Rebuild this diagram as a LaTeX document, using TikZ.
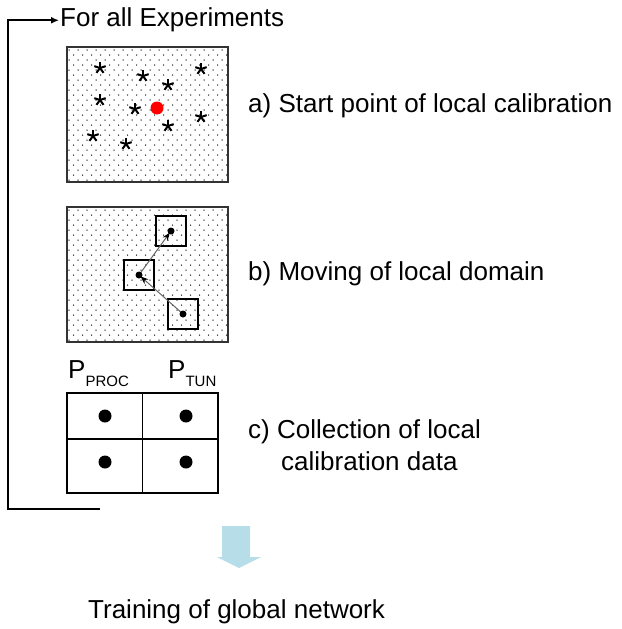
\documentclass[tikz,border=0pt]{standalone}
\usepackage{fontspec}
\setmainfont{Liberation Sans}
\usetikzlibrary{arrows.meta}

\definecolor{arrowblue}{RGB}{183,221,232}
\definecolor{dotgray}{RGB}{40,40,40}
\newcommand{\labelfont}{\fontsize{26}{31}\selectfont}
\newcommand{\subfont}{\fontsize{15}{15}\selectfont}

\begin{document}
\begin{tikzpicture}[x=1pt, y=-1pt,
    every node/.style={inner sep=1pt, font=\labelfont},
    panel/.style={rectangle, draw=black!80, line width=1.4pt, inner sep=0pt},
    domainbox/.style={rectangle, draw, line width=2.4pt, minimum size=30pt, inner sep=0pt},
    loopline/.style={line width=2.4pt, -{Latex[length=8pt, width=7pt]}},
    movearrow/.style={black!60, line width=1pt, shorten >=2pt, -{Stealth[length=8pt, width=6pt, black]}},
    textlabel/.style={anchor=base west}]

    \useasboundingbox (0,0) rectangle (621,629);

    % outer loop over the experiments
    \node (expt) [textlabel] at (59,27) {For all Experiments};
    \coordinate (loopend) at (100,509);
    \draw[loopline] (loopend) -- (8,509) |- (expt.west);

    % a) start point
    \node (boxa) [panel, minimum width=161pt, minimum height=135pt] at (147.5,114.5) {};
    \foreach \r in {0,...,26}
        \foreach \c in {0,...,17}
            \fill[dotgray] ({69+9*\c+4.5*mod(\r,2)}, {50+5*\r}) circle (0.75);
    \foreach \p in {(100,68),(143,76),(168,85),(201,69),(100,100),(135,109),(168,126),(201,117),(93,136),(126,144)}
        \foreach \a in {-90,-18,54,126,198}
            \draw[line width=2pt] \p -- ++(\a:6);
    \fill[red] (157,108) circle (6.5);
    \draw[panel] (boxa.north west) rectangle (boxa.south east);
    \node (labela) [textlabel] at (247,112) {a) Start point of local calibration};

    % b) moving the domain
    \node (boxb) [panel, minimum width=161pt, minimum height=135pt] at (147.5,274.5) {};
    \foreach \r in {0,...,26}
        \foreach \c in {0,...,17}
            \fill[dotgray] ({69+9*\c+4.5*mod(\r,2)}, {210+5*\r}) circle (0.75);
    \draw[panel] (boxb.north west) rectangle (boxb.south east);
    \coordinate (d1) at (171,231);
    \coordinate (d2) at (139,275);
    \coordinate (d3) at (183,314);
    \node (dom1) [domainbox] at (d1) {};
    \node (dom2) [domainbox] at (d2) {};
    \node (dom3) [domainbox] at (d3) {};
    \draw[movearrow] (d3) -- (d2);
    \draw[movearrow] (d2) -- (d1);
    \foreach \d in {d1,d2,d3}
        \fill (\d) circle (3.5);
    \node (labelb) [textlabel] at (247,280) {b) Moving of local domain};

    % c) collected data
    \node (pproc) [textlabel, inner sep=0pt] at (68,378) {P\raisebox{-8pt}{\subfont PROC}};
    \node (ptun) [textlabel, inner sep=0pt] at (168,378) {P\raisebox{-8pt}{\subfont TUN}};
    \node (tab) [rectangle, draw, line width=1.1pt, minimum width=151pt, minimum height=100pt, inner sep=0pt] at (142.5,443) {};
    \draw[line width=1.1pt] (tab.north) -- (tab.south);
    \draw[line width=1.1pt] (tab.west |- 0,439) -- (tab.east |- 0,439);
    \foreach \p in {(105,416),(186,416),(105,462),(186,462)}
        \fill \p circle (6.5);
    \node (labelc) [textlabel] at (247,438) {c) Collection of local};
    \node (labelcc) [textlabel] at (280,470) {calibration data};

    % result
    \fill[arrowblue] (222,526) -- (250,526) -- (250,557) -- (261,557) -- (239,568) -- (217,557) -- (222,557) -- cycle;
    \node (train) [textlabel] at (87,618) {Training of global network};

\end{tikzpicture}
\end{document}
